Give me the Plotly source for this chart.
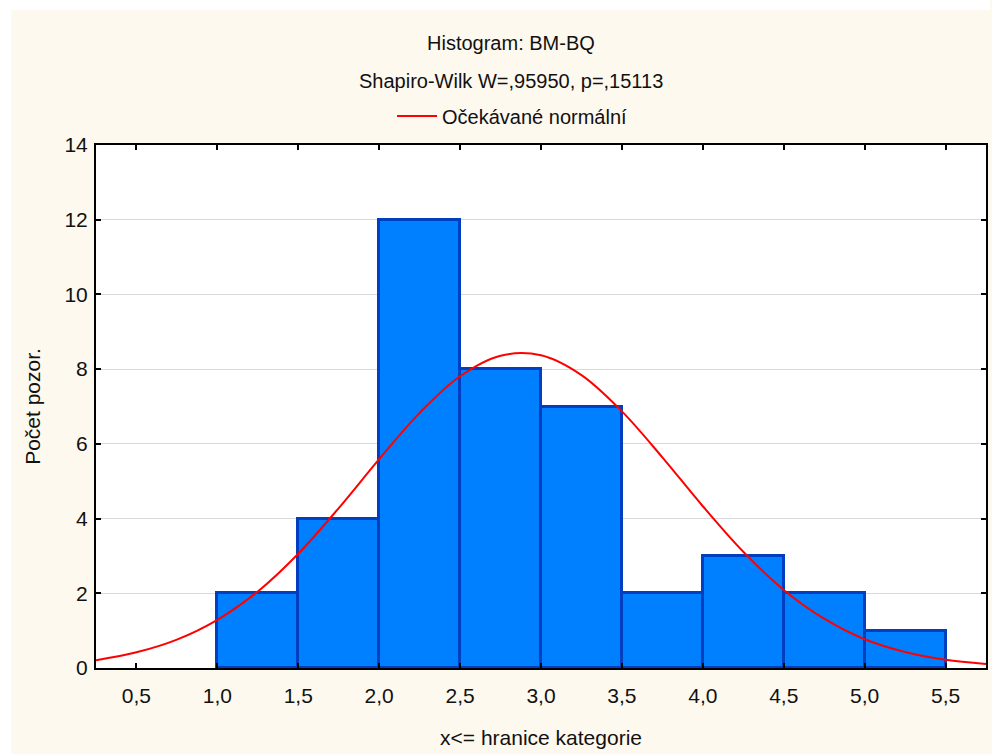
import plotly.graph_objects as go

# Histogram data: bin left edges (width 0.5) and counts
bin_left = [1.0, 1.5, 2.0, 2.5, 3.0, 3.5, 4.0, 4.5, 5.0]
counts = [2, 4, 12, 8, 7, 2, 3, 2, 1]

# Expected normal curve
curve_x = [0.25, 0.5, 0.75, 1.0, 1.25, 1.5, 1.75, 2.0, 2.25, 2.5, 2.75, 3.0,
           3.25, 3.5, 3.75, 4.0, 4.25, 4.5, 4.75, 5.0, 5.25, 5.5, 5.75]
curve_y = [0.21, 0.42, 0.76, 1.29, 2.05, 3.06, 4.28, 5.59, 6.83, 7.81, 8.36, 8.37,
           7.84, 6.87, 5.64, 4.33, 3.11, 2.09, 1.32, 0.77, 0.43, 0.22, 0.11]

x_ticks = [0.5, 1.0, 1.5, 2.0, 2.5, 3.0, 3.5, 4.0, 4.5, 5.0, 5.5]
x_tick_labels = ["0,5", "1,0", "1,5", "2,0", "2,5", "3,0", "3,5", "4,0", "4,5", "5,0", "5,5"]
y_ticks = [0, 2, 4, 6, 8, 10, 12, 14]

title_1 = "Histogram: BM-BQ"
title_2 = "Shapiro-Wilk W=,95950, p=,15113"
legend_name = "Očekávané normální"
x_title = "x<= hranice kategorie"
y_title = "Počet pozor."

FONT = "Liberation Sans, Arial, sans-serif"
CREAM = "#FEF9EF"

fig = go.Figure()
fig.add_trace(go.Bar(
    x=bin_left, y=counts, width=0.5, offset=0,
    marker=dict(color="#0080FF", line=dict(color="#0040C0", width=3)),
    showlegend=False, hoverinfo="x+y",
))
fig.add_trace(go.Scatter(
    x=curve_x, y=curve_y, mode="lines", name=legend_name,
    line=dict(color="#FF0000", width=2, shape="spline"),
))

L, R, T, B = 96, 4, 145, 86
W, H = 992, 754
pw, ph = W - L - R, H - T - B

def px2x(p):
    return (p - L) / pw

def py2y(p):
    return 1 + (T - p) / ph

fig.update_layout(
    width=W, height=H,
    margin=dict(l=L, r=R, t=T, b=B),
    paper_bgcolor=CREAM,
    plot_bgcolor="white",
    font=dict(family=FONT, size=20, color="#111111"),
    bargap=0,
    legend=dict(orientation="h", x=px2x(513), xanchor="center", y=py2y(116), yanchor="middle",
                bgcolor="rgba(0,0,0,0)", font=dict(size=20), itemwidth=40),
    xaxis=dict(
        range=[0.25, 5.75], tickvals=x_ticks, ticktext=x_tick_labels,
        ticks="inside", ticklen=5, tickwidth=2, tickcolor="black",
        showline=True, linecolor="black", linewidth=2, mirror="ticks",
        showgrid=False, zeroline=False, ticklabelstandoff=8,
        tickfont=dict(size=21),
        title=dict(text=x_title, standoff=24, font=dict(size=21)),
    ),
    yaxis=dict(
        range=[0, 14], tickvals=y_ticks,
        ticks="inside", ticklen=5, tickwidth=2, tickcolor="black",
        showline=True, linecolor="black", linewidth=2, mirror="ticks",
        showgrid=True, gridcolor="#D9D9D9", gridwidth=1, zeroline=False,
        ticklabelstandoff=2,
        tickfont=dict(size=21),
        title=dict(text=y_title, standoff=18, font=dict(size=21)),
    ),
    shapes=[
        dict(type="rect", xref="paper", yref="paper", x0=px2x(0), x1=px2x(11),
             y0=py2y(H), y1=py2y(0), fillcolor="white", line=dict(width=0), layer="below"),
        dict(type="rect", xref="paper", yref="paper", x0=px2x(0), x1=px2x(W),
             y0=py2y(10), y1=py2y(0), fillcolor="white", line=dict(width=0), layer="below"),
    ],
    annotations=[
        dict(text=title_1, xref="paper", yref="paper", x=px2x(512), y=py2y(43),
             xanchor="center", yanchor="middle", showarrow=False, font=dict(size=20)),
        dict(text=title_2, xref="paper", yref="paper", x=px2x(512), y=py2y(81),
             xanchor="center", yanchor="middle", showarrow=False, font=dict(size=20)),
    ],
)

fig.write_html("out.html")
